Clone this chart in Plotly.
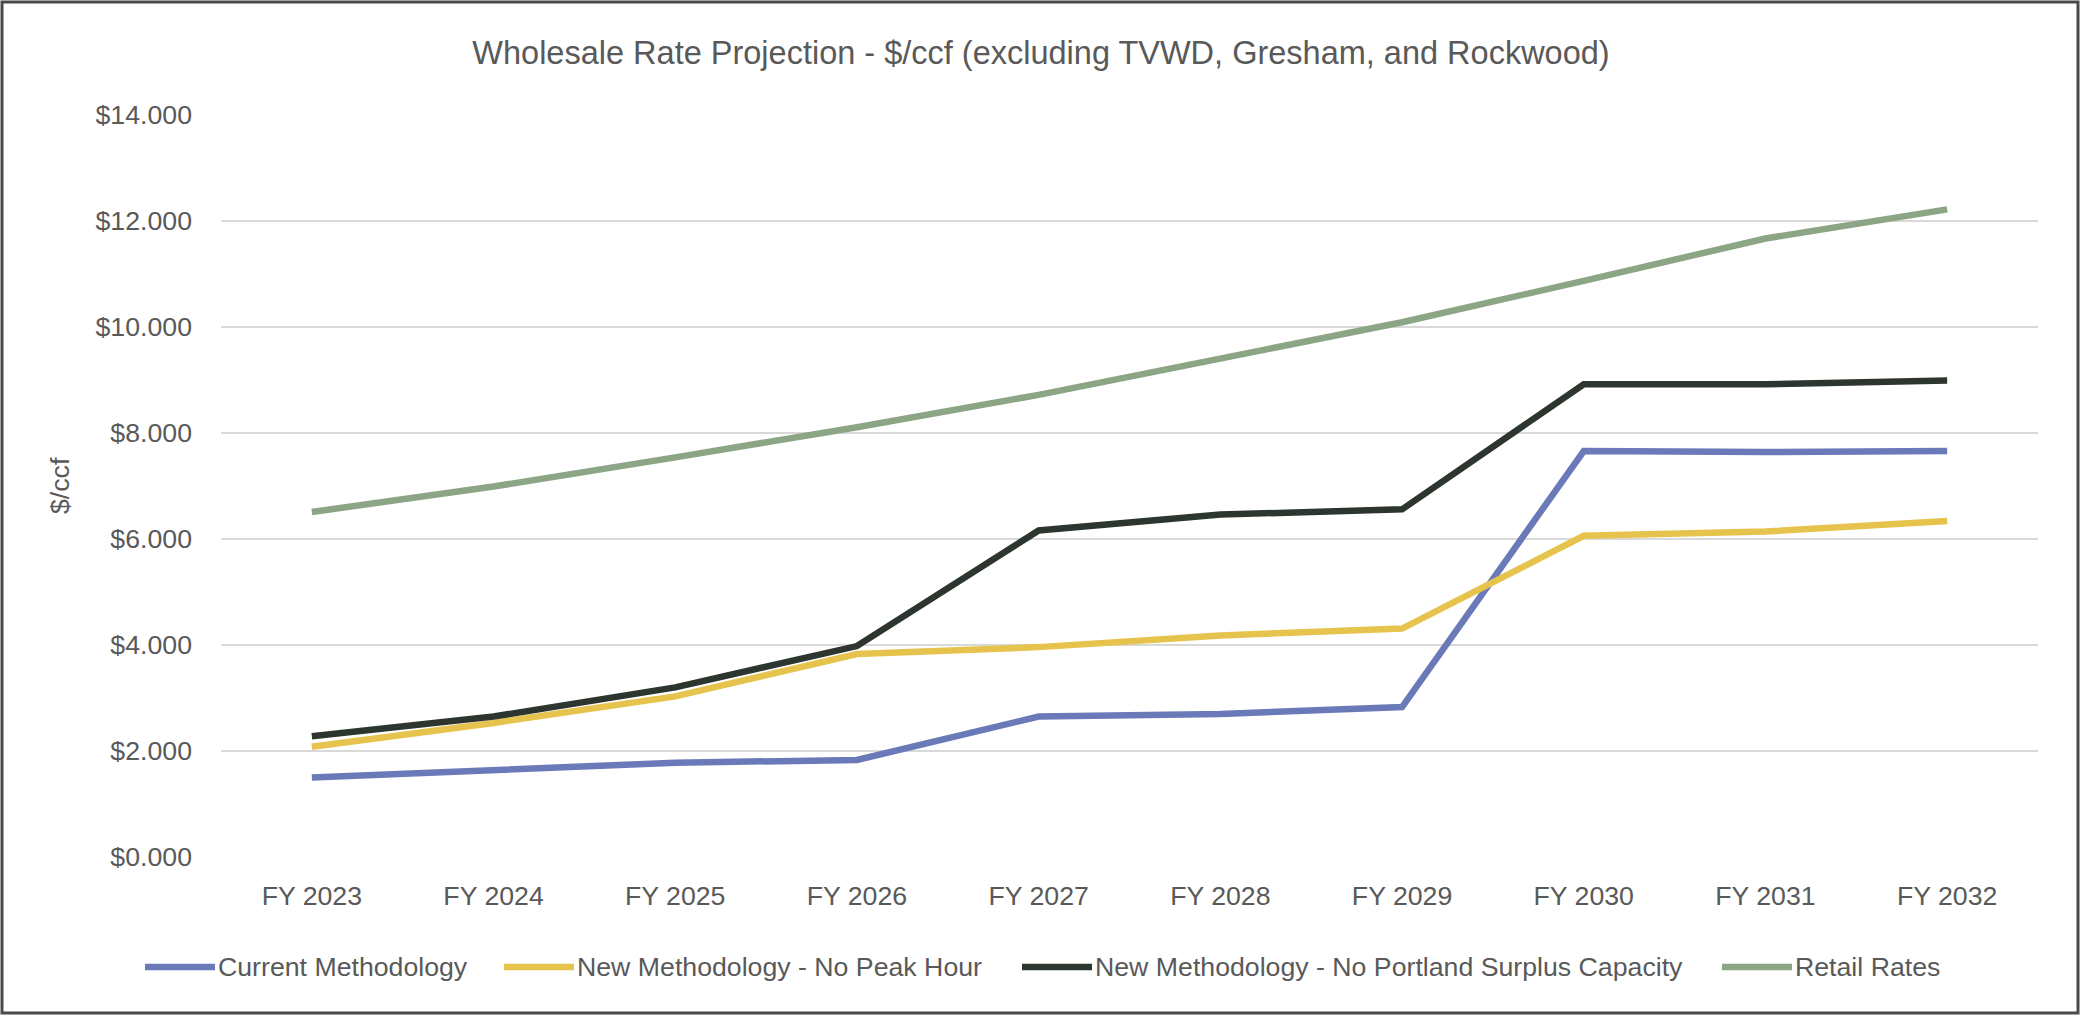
import plotly.graph_objects as go

years = ["FY 2023", "FY 2024", "FY 2025", "FY 2026", "FY 2027",
         "FY 2028", "FY 2029", "FY 2030", "FY 2031", "FY 2032"]
current_method = [1.50, 1.65, 1.78, 1.83, 2.65, 2.70, 2.83, 7.66, 7.64, 7.66]
new_no_peak = [2.08, 2.53, 3.03, 3.83, 3.96, 4.18, 4.31, 6.06, 6.14, 6.34]
new_no_surplus = [2.28, 2.65, 3.20, 3.98, 6.16, 6.46, 6.56, 8.92, 8.92, 8.99]
retail_rates = [6.51, 6.99, 7.54, 8.11, 8.72, 9.39, 10.09, 10.87, 11.67, 12.22]

series_names = ["Current Methodology", "New Methodology - No Peak Hour",
                "New Methodology - No Portland Surplus Capacity", "Retail Rates"]
series_values = [current_method, new_no_peak, new_no_surplus, retail_rates]
series_colors = ["#6A7AB8", "#E6C34C", "#2C352E", "#8CA585"]

W, H = 2080, 1015
ML, MR, MT, MB = 221, 42, 115, 158
PW, PH = W - ML - MR, H - MT - MB

FONT = "Liberation Sans, Arial, sans-serif"
GRAY = "#595959"
TXT = 26.7

fig = go.Figure()
for name, vals, col in zip(series_names, series_values, series_colors):
    fig.add_trace(go.Scatter(x=years, y=vals, mode="lines", name=name,
                             line=dict(color=col, width=6.5), showlegend=False))

# custom legend (long line swatches like the original)
legend_line_starts = [145, 504, 1022, 1722]
legend_y_px = 967
shapes = []
annotations = []
for name, col, x0 in zip(series_names, series_colors, legend_line_starts):
    px0 = (x0 - ML) / PW
    px1 = (x0 + 70 - ML) / PW
    py = (MT + PH - legend_y_px) / PH
    shapes.append(dict(type="line", xref="paper", yref="paper", x0=px0, x1=px1,
                       y0=py, y1=py, line=dict(color=col, width=6.5)))
    annotations.append(dict(text=name, xref="paper", yref="paper",
                            x=(x0 + 71 - ML) / PW, y=py, xanchor="left", yanchor="middle",
                            showarrow=False, font=dict(family=FONT, size=TXT, color=GRAY)))

# y-axis title
annotations.append(dict(text="$/ccf", xref="paper", yref="paper",
                        x=(60 - ML) / PW, y=0.5, textangle=-90, showarrow=False,
                        xanchor="center", yanchor="middle",
                        font=dict(family=FONT, size=TXT, color=GRAY)))

# outer frame
shapes.append(dict(type="rect", xref="paper", yref="paper",
                   x0=-(ML - 2) / PW, x1=1 + (MR - 2) / PW,
                   y0=-(MB - 2) / PH, y1=1 + (MT - 2) / PH,
                   line=dict(color="#4a4a4a", width=3), layer="above"))

fig.update_layout(
    width=W, height=H,
    margin=dict(l=ML, r=MR, t=MT, b=MB, autoexpand=False),
    paper_bgcolor="white", plot_bgcolor="white",
    title=dict(text="Wholesale Rate Projection - $/ccf (excluding TVWD, Gresham, and Rockwood)",
               xref="container", x=1041 / W, xanchor="center", y=1 - 53 / H, yanchor="middle",
               font=dict(family=FONT, size=32.5, color=GRAY)),
    font=dict(family=FONT, color=GRAY),
    shapes=shapes, annotations=annotations,
    showlegend=False,
)
fig.update_xaxes(type="category", range=[-0.5, len(years) - 0.5],
                 showgrid=False, zeroline=False, showline=False,
                 ticks="", tickfont=dict(family=FONT, size=TXT, color=GRAY),
                 ticklabelstandoff=20, fixedrange=True)
fig.update_yaxes(range=[0, 14], dtick=2, tickformat=".3f", tickprefix="$",
                 showgrid=True, gridcolor="#D9D9D9", gridwidth=2,
                 zeroline=False, showline=False, ticks="",
                 tickfont=dict(family=FONT, size=TXT, color=GRAY),
                 ticklabelstandoff=28, fixedrange=True)

fig.write_html("out.html")
